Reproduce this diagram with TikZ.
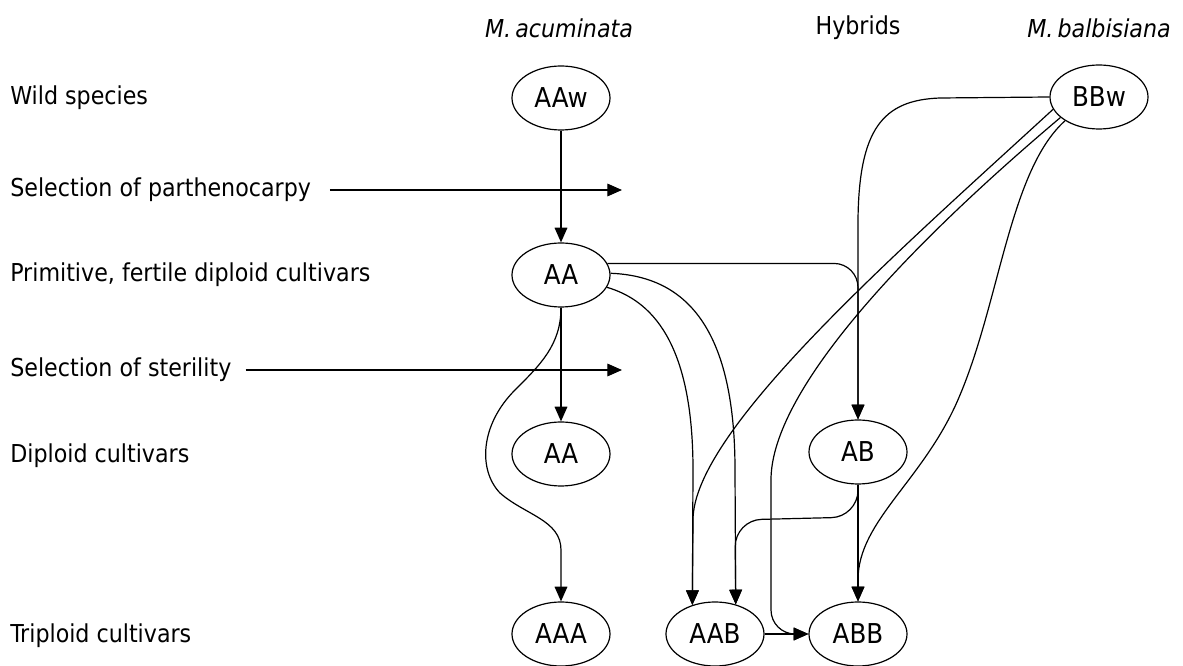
\documentclass[tikz,border=0pt]{standalone}
\usepackage{fontspec}
\setmainfont{DejaVu Sans Condensed}
\usetikzlibrary{shapes.geometric,arrows.meta}

\tikzset{
  geno/.style={draw, ellipse, line width=0.9pt, minimum width=73.5pt, minimum height=48pt, inner sep=0pt, font=\fontsize{20.5}{24}\selectfont},
  edge/.style={line width=0.9pt, -{Triangle[length=11pt,width=9.5pt]}},
  rowlabel/.style={anchor=west, inner sep=0pt, font=\fontsize{18.5}{22}\selectfont},
  coltitle/.style={inner sep=0pt, font=\fontsize{18.5}{22}\selectfont},
}

\begin{document}
\begin{tikzpicture}[x=0.75pt,y=0.75pt,yscale=-1,xscale=1]
            \useasboundingbox (0,0) rectangle (1183,666);
            %column titles
            \node[coltitle] (acum) at (559,28) {\itshape M.\,acuminata};
            \node[coltitle] (hyb) at (858,28) {Hybrids};
            \node[coltitle] (balb) at (1099,28) {\itshape M.\,balbisiana};
            %row titles
            \node[rowlabel] (wild) at (10,98) {Wild species};
            \node[rowlabel] (parth) at (10,190) {Selection of parthenocarpy};
            \node[rowlabel] (prim) at (10,275) {Primitive, fertile diploid cultivars};
            \node[rowlabel] (steril) at (10,370) {Selection of sterility};
            \node[rowlabel] (dipl) at (10,456) {Diploid cultivars};
            \node[rowlabel] (tripl) at (10,636) {Triploid cultivars};
            \coordinate (parthend) at (622,190);
            \coordinate (sterilend) at (622,370);
            \draw[edge] ([xshift=14pt]parth.east) -- (parthend);
            \draw[edge] ([xshift=10.5pt]steril.east) -- (sterilend);
            %
            %genomes
            \node[geno] (aaw) at (561,98) {AAw};
            \node[geno] (aa) at (561,275) {AA};
            \node[geno] (aadip) at (561,454) {AA};
            \node[geno] (aaa) at (561,634) {AAA};
            \node[geno] (aab) at (715,634) {AAB};
            \node[geno] (abb) at (858,634) {ABB};
            \node[geno] (ab) at (858,452) {AB};
            \node[geno] (bbw) at (1099,97) {BBw};
            %
            %acuminata line
            \draw[edge] (aaw) -- (aa);
            \draw[edge] (aa) -- (aadip);
            \draw[edge] (aa.south) .. controls (561,345) and (540,365) .. (515,390) .. controls (480,425) and (478,470) .. (500,493) .. controls (525,515) and (561,520) .. (561,550) -- (aaa.north);
            %hybrids
            \draw[edge, rounded corners=18] (aa.14) -- (aa.14 -| ab) -- (ab.north);
            \draw[edge] (bbw.west) -- (940,98) .. controls (882,100) and (859,130) .. (858,220) -- (ab.north);
            %AAB
            \draw[edge] (aa.2) .. controls (680,276) and (735,320) .. (735,470) -- (aab.55);
            \draw[edge] (aa.-15) .. controls (650,300) and (693,340) .. (693,470) -- (aab.128);
            \draw[edge] (bbw.195) .. controls (900,250) and (693,430) .. (693,520) -- (aab.128);
            \draw[edge, rounded corners=20] (ab.south) -- (858,517) -- (735,520) -- (aab.55);
            %ABB
            \draw[edge] (bbw.208) .. controls (880,270) and (771,400) .. (771,480) [rounded corners=18] -- (771,634) -- (abb.west);
            \draw[edge] (bbw.215) .. controls (1010,170) and (1000,300) .. (960,395) .. controls (925,480) and (858,520) .. (858,580) -- (abb.north);
            \draw[edge] (ab) -- (abb);
            \draw[edge] (aab) -- (abb);
\end{tikzpicture}
\end{document}
